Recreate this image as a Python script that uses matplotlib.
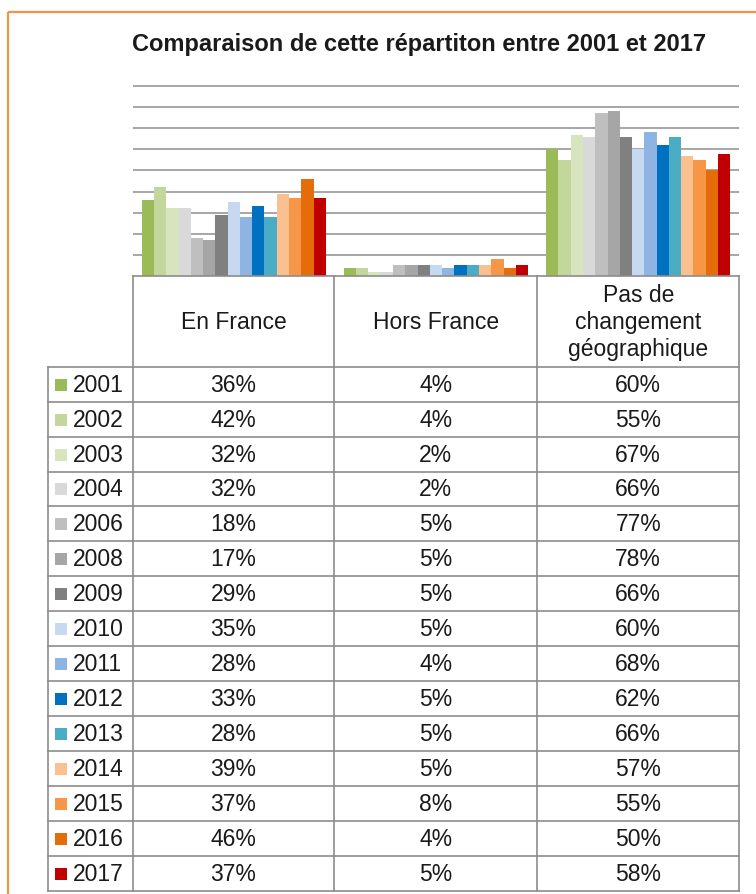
import matplotlib.pyplot as plt
import numpy as np

plt.rcParams['font.family'] = ['Liberation Sans', 'DejaVu Sans']

# data
categories = ["En France", "Hors France", "Pas de\nchangement\ngéographique"]
years = ["2001", "2002", "2003", "2004", "2006", "2008", "2009", "2010",
         "2011", "2012", "2013", "2014", "2015", "2016", "2017"]
en_france = [36, 42, 32, 32, 18, 17, 29, 35, 28, 33, 28, 39, 37, 46, 37]
hors_france = [4, 4, 2, 2, 5, 5, 5, 5, 4, 5, 5, 5, 8, 4, 5]
pas_de_changement = [60, 55, 67, 66, 77, 78, 66, 60, 68, 62, 66, 57, 55, 50, 58]
colors = ["#9BBB59", "#C3D69B", "#D7E4BD", "#D9D9D9", "#BFBFBF", "#A6A6A6",
          "#808080", "#C6D9F1", "#8EB4E3", "#0070C0", "#4BACC6", "#FAC090",
          "#F79646", "#E46C0A", "#C00000"]
title = "Comparaison de cette répartiton entre 2001 et 2017"

W, H = 756, 894
fig = plt.figure(figsize=(W / 100, H / 100), dpi=100)

# layout in pixels
left, right = 132.7, 739.3
bottom = 276.0
px_per_pct = (276 - 86) / 90
ymax = 91
top = bottom - ymax * px_per_pct
ax = fig.add_axes([left / W, 1 - bottom / H, (right - left) / W, (bottom - top) / H])

values = np.array([en_france, hors_france, pas_de_changement])  # (cat, year)
n = len(years)
w = 0.0607
x = np.arange(len(categories))
for j in range(n):
    ax.bar(x + (j - (n - 1) / 2) * w, values[:, j], width=w, color=colors[j],
           zorder=3, linewidth=0)

ax.set_xlim(-0.5, 2.5)
ax.set_ylim(0, ymax)
ax.set_yticks(np.arange(10, 91, 10))
ax.yaxis.grid(True, color="#8e8e8e", linewidth=1.1)
ax.set_axisbelow(True)
ax.tick_params(left=False, bottom=False, labelleft=False, labelbottom=False)
for s in ax.spines.values():
    s.set_visible(False)

# overlay in pixel coords for table, title and frame
ov = fig.add_axes([0, 0, 1, 1], zorder=5)
ov.set_xlim(0, W)
ov.set_ylim(H, 0)
ov.axis("off")
ov.patch.set_alpha(0)

# orange frame
ov.plot([8.3, W], [12.3, 12.3], color="#F0954A", lw=1.6, solid_capstyle="butt")
ov.plot([8.3, 8.3], [12.3, H], color="#F0954A", lw=1.6, solid_capstyle="butt")

ov.text(419, 44, title, ha="center", va="center", fontsize=17,
        fontweight="bold", color="#1a1a1a")

# table
col_x = [132.7, 334.3, 537.3, 739.3]
lab_x = 48.3
row_top = 366.7
row_h = (890.7 - 366.7) / n
line_c = "#8c8c8c"
lw = 1.2
tab_bottom = row_top + n * row_h

# header row
ov.plot([col_x[0], col_x[-1]], [bottom, bottom], color=line_c, lw=lw)
for cx in col_x:
    ov.plot([cx, cx], [bottom, tab_bottom], color=line_c, lw=lw)
ov.plot([lab_x, lab_x], [row_top, tab_bottom], color=line_c, lw=lw)
for i in range(n + 1):
    ov.plot([lab_x, col_x[-1]], [row_top + i * row_h] * 2, color=line_c, lw=lw)

txt_c = "#1a1a1a"
fs = 16.5
for k, cat in enumerate(categories):
    ov.text((col_x[k] + col_x[k + 1]) / 2, (bottom + row_top) / 2 + 1, cat,
            ha="center", va="center", fontsize=fs, color=txt_c, linespacing=1.22)

for i, yr in enumerate(years):
    yc = row_top + (i + 0.5) * row_h
    ov.add_patch(plt.Rectangle((55, yc - 5.5), 12, 12, color=colors[i], lw=0))
    ov.text(72.7, yc + 1, yr, ha="left", va="center", fontsize=fs, color=txt_c)
    for k in range(len(categories)):
        ov.text((col_x[k] + col_x[k + 1]) / 2, yc + 1, f"{values[k, i]}%",
                ha="center", va="center", fontsize=fs, color=txt_c)

fig.savefig("out.png", dpi=100)
